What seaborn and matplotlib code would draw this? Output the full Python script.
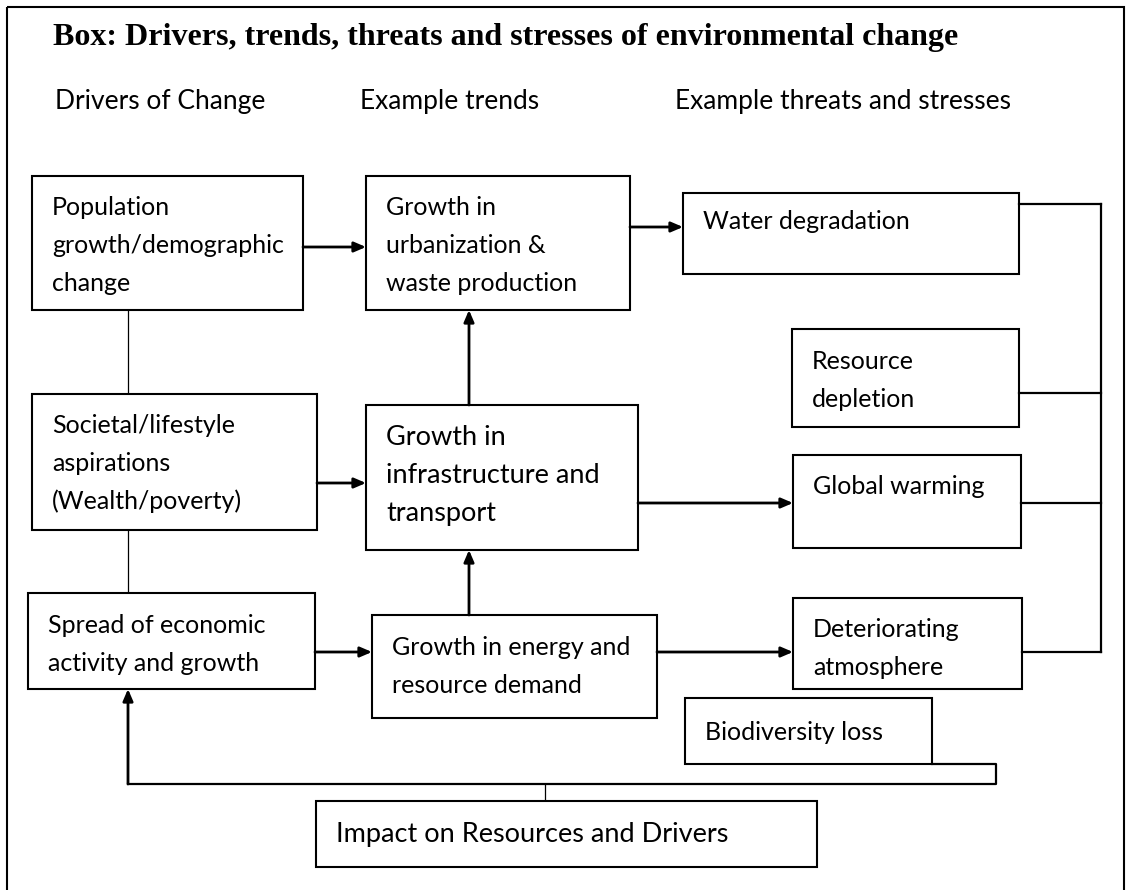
import matplotlib
matplotlib.use("Agg")
import matplotlib.pyplot as plt
from matplotlib.patches import Rectangle
import seaborn as sns

sns.set_theme(style="white")
plt.rcParams["font.family"] = ["Lato", "DejaVu Sans"]

# --- content ---
title = "Box: Drivers, trends, threats and stresses of environmental change"
headers = ["Drivers of Change", "Example trends", "Example threats and stresses"]

box_names = ["pop", "urb", "water", "resource", "societal", "infra",
             "global", "spread", "energy", "deter", "bio", "impact"]
box_labels = [
    ["Population", "growth/demographic", "change"],
    ["Growth in", "urbanization &", "waste production"],
    ["Water degradation"],
    ["Resource", "depletion"],
    ["Societal/lifestyle", "aspirations", "(Wealth/poverty)"],
    ["Growth in", "infrastructure and", "transport"],
    ["Global warming"],
    ["Spread of economic", "activity and growth"],
    ["Growth in energy and", "resource demand"],
    ["Deteriorating", "atmosphere"],
    ["Biodiversity loss"],
    ["Impact on Resources and Drivers"],
]

# --- layout (pixel units, y downwards) ---
box_xy = {
    "pop": (32, 176, 303, 310), "urb": (366, 176, 630, 310),
    "water": (683, 193, 1019, 274), "resource": (792, 329, 1019, 427),
    "societal": (32, 394, 317, 530), "infra": (366, 405, 638, 550),
    "global": (793, 455, 1021, 548), "spread": (28, 593, 315, 689),
    "energy": (372, 615, 657, 718), "deter": (793, 598, 1022, 689),
    "bio": (685, 698, 932, 764), "impact": (316, 801, 817, 867),
}
first_baseline = {
    "pop": 215, "urb": 215, "water": 229, "resource": 369, "societal": 433,
    "infra": 445, "global": 494, "spread": 633, "energy": 655, "deter": 637,
    "bio": 740, "impact": 842,
}
big_text = {"infra": 19.5, "impact": 19.5}
line_gap = 38
text_pad = 20
header_x = [55, 360, 675]

arrows = [((303, 247), (366, 247)), ((630, 227), (683, 227)),
          ((317, 483), (366, 483)), ((469, 405), (469, 310)),
          ((638, 503), (793, 503)), ((315, 652), (372, 652)),
          ((469, 615), (469, 550)), ((657, 652), (793, 652)),
          ((128, 784), (128, 689))]
thin_lines = [[(128, 310), (128, 394)], [(128, 530), (128, 593)],
              [(545, 801), (545, 784)]]
thick_lines = [[(1019, 204), (1101, 204)], [(1019, 393), (1101, 393)],
               [(1021, 503), (1101, 503)], [(1022, 652), (1101, 652)],
               [(1101, 204), (1101, 652)],
               [(932, 764), (996, 764), (996, 784), (128, 784)]]

fig = plt.figure(figsize=(11.3, 8.9), dpi=100)
ax = fig.add_axes([0, 0, 1, 1])
ax.set_xlim(0, 1130)
ax.set_ylim(890, 0)
ax.axis("off")

# outer frame
ax.add_patch(Rectangle((7, 7), 1117, 900, fill=False, lw=1.5, ec="black"))

ax.text(53, 45, title, family="Liberation Serif", weight="bold",
        fontsize=23, va="baseline", ha="left", color="black")
for hx, h in zip(header_x, headers):
    ax.text(hx, 109, h, fontsize=19, va="baseline", ha="left", color="black")

for name, lines in zip(box_names, box_labels):
    x0, y0, x1, y1 = box_xy[name]
    ax.add_patch(Rectangle((x0, y0), x1 - x0, y1 - y0, fill=False,
                           lw=1.5, ec="black"))
    size = big_text.get(name, 18)
    for i, line in enumerate(lines):
        ax.text(x0 + text_pad, first_baseline[name] + i * line_gap, line,
                fontsize=size, va="baseline", ha="left", color="black")

for pts in thin_lines:
    xs, ys = zip(*pts)
    ax.plot(xs, ys, color="black", lw=0.9, solid_capstyle="butt")
for pts in thick_lines:
    xs, ys = zip(*pts)
    ax.plot(xs, ys, color="black", lw=1.6, solid_capstyle="projecting")

for start, end in arrows:
    ax.annotate("", xy=end, xytext=start,
                arrowprops=dict(arrowstyle="-|>,head_length=0.35,head_width=0.15",
                                mutation_scale=20, lw=2, color="black",
                                shrinkA=0, shrinkB=0))

fig.savefig("out.png", dpi=100, facecolor="white")
